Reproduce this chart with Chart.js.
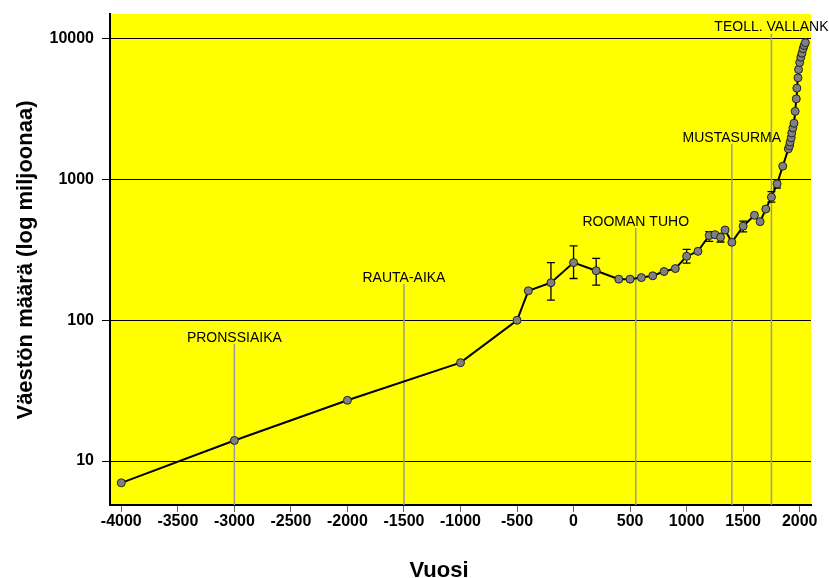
<!DOCTYPE html>
<html>
<head>
<meta charset="utf-8">
<script src="https://cdn.jsdelivr.net/npm/chart.js@4.4.0/dist/chart.umd.min.js"></script>
<style>
  html, body { margin: 0; padding: 0; background: #fff; }
  #wrap { width: 829px; height: 578px; }
</style>
</head>
<body>
<div id="wrap"><canvas id="popChart" width="829" height="578"></canvas></div>
<script>
// world population estimates, millions
var years = [-4000, -3000, -2000, -1000, -500, -400, -200, 0, 200, 400, 500, 600, 700, 800, 900,
  1000, 1100, 1200, 1250, 1300, 1340, 1400, 1500, 1600, 1650, 1700, 1750, 1800,
  1850, 1900, 1910, 1915, 1925, 1930, 1940, 1950, 1960, 1970, 1975, 1985, 1990, 2000,
  2010, 2020, 2030, 2040, 2050];
var population = [7, 14, 27, 50, 100, 162, 185, 257, 225, 196, 196, 201, 207, 222, 233,
  285, 309, 400, 406, 389, 438, 358, 466, 557, 502, 617, 750, 931,
  1244, 1652, 1740, 1842, 1978, 2140, 2328, 2512, 3050, 3745, 4460, 5283, 6050, 6790,
  7400, 7900, 8500, 8970, 9380];

// uncertainty ranges
var errYears = [-200, 0, 200, 1000, 1200, 1300, 1500, 1750, 1800];
var errLow = [139, 198, 178, 255, 363, 360, 425, 690, 870];
var errHigh = [257, 338, 275, 319, 427, 414, 506, 820, 1000];

// historical events
var eventNames = ['PRONSSIAIKA', 'RAUTA-AIKA', 'ROOMAN TUHO', 'MUSTASURMA', 'TEOLL. VALLANK'];
var eventYears = [-3000, -1500, 550, 1400, 1750];
var eventLabelAt = [75, 200, 500, 1980, 12000];

var yTicks = [10, 100, 1000, 10000];
var xTitle = 'Vuosi';
var yTitle = 'Väestön määrä (log miljoonaa)';

var fontFam = 'Arial, "Liberation Sans", sans-serif';

var points = years.map(function (y, i) { return { x: y, y: population[i] }; });

var decorPlugin = {
  id: 'decor',
  beforeDraw: function (chart) {
    var a = chart.chartArea, c = chart.ctx;
    c.save();
    c.fillStyle = '#ffff00';
    c.fillRect(a.left, a.top, a.right - a.left, a.bottom - a.top);
    c.restore();
  },
  beforeDatasetsDraw: function (chart) {
    var c = chart.ctx, xs = chart.scales.x, ys = chart.scales.y, a = chart.chartArea;
    c.save();
    // event lines
    c.strokeStyle = '#9a9a9a';
    c.lineWidth = 1.5;
    eventYears.forEach(function (yr, i) {
      var px = xs.getPixelForValue(yr);
      var py = ys.getPixelForValue(eventLabelAt[i]) + 6;
      c.beginPath();
      c.moveTo(px, py);
      c.lineTo(px, a.bottom);
      c.stroke();
    });
    // error bars
    c.strokeStyle = '#000';
    c.lineWidth = 1.3;
    errYears.forEach(function (yr, i) {
      var px = xs.getPixelForValue(yr);
      var lo = ys.getPixelForValue(errLow[i]);
      var hi = ys.getPixelForValue(errHigh[i]);
      c.beginPath();
      c.moveTo(px, lo); c.lineTo(px, hi);
      c.moveTo(px - 4, lo); c.lineTo(px + 4, lo);
      c.moveTo(px - 4, hi); c.lineTo(px + 4, hi);
      c.stroke();
    });
    c.restore();
  },
  afterDraw: function (chart) {
    var c = chart.ctx, xs = chart.scales.x, ys = chart.scales.y;
    c.save();
    c.fillStyle = '#000';
    c.font = '14px ' + fontFam;
    c.textAlign = 'center';
    c.textBaseline = 'middle';
    eventNames.forEach(function (name, i) {
      c.fillText(name, xs.getPixelForValue(eventYears[i]), ys.getPixelForValue(eventLabelAt[i]));
    });
    // axis titles
    c.textBaseline = 'alphabetic';
    c.font = 'bold 22px ' + fontFam;
    c.fillText(xTitle, 439, 577);
    c.translate(32, 260);
    c.rotate(-Math.PI / 2);
    c.fillText(yTitle, 0, 0);
    c.restore();
  }
};

var ctx = document.getElementById('popChart').getContext('2d');
var popChart = new Chart(ctx, {
  type: 'scatter',
  data: {
    datasets: [{
      data: points,
      showLine: true,
      borderColor: '#000',
      borderWidth: 2,
      backgroundColor: '#808080',
      pointBackgroundColor: '#808080',
      pointBorderColor: '#222',
      pointBorderWidth: 1,
      pointRadius: 4,
      tension: 0
    }]
  },
  options: {
    responsive: false,
    animation: false,
    layout: { padding: { top: 14, right: 18, left: 0, bottom: 0 } },
    plugins: { legend: { display: false }, tooltip: { enabled: false } },
    scales: {
      x: {
        type: 'linear',
        min: -4100,
        max: 2100,
        afterFit: function (s) { s.height = 73; s.paddingLeft = 0; s.paddingRight = 0; },
        afterBuildTicks: function (s) {
          var t = [];
          for (var v = -4000; v <= 2000; v += 500) t.push({ value: v });
          s.ticks = t;
        },
        ticks: {
          color: '#000',
          font: { family: fontFam, size: 16, weight: 'bold' },
          padding: 0,
          maxRotation: 0,
          autoSkip: false,
          callback: function (v) { return String(v); }
        },
        grid: { drawOnChartArea: false, drawTicks: true, tickLength: 7, color: '#666' },
        border: { display: true, color: '#000', width: 2 }
      },
      y: {
        type: 'logarithmic',
        min: 4.87,
        max: 15000,
        afterFit: function (s) { s.width = 110; s.paddingTop = 0; s.paddingBottom = 0; },
        afterBuildTicks: function (s) {
          s.ticks = yTicks.map(function (v) { return { value: v }; });
        },
        ticks: {
          color: '#000',
          font: { family: fontFam, size: 16, weight: 'bold' },
          padding: 8,
          callback: function (v) { return String(v); }
        },
        grid: { color: '#000', lineWidth: 1, drawTicks: true, tickLength: 8 },
        border: { display: true, color: '#000', width: 2 }
      }
    }
  },
  plugins: [decorPlugin]
});
</script>
</body>
</html>
